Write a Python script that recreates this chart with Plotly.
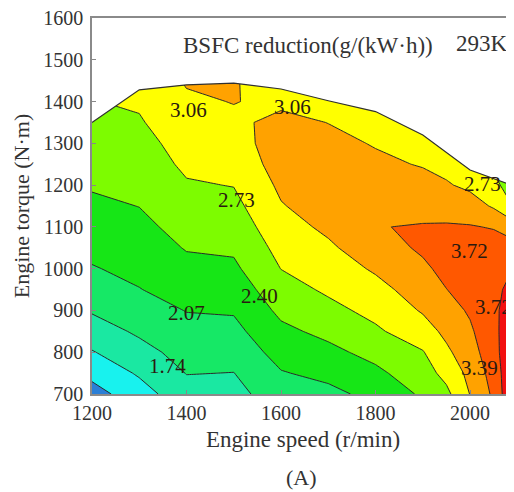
import numpy as np
import plotly.graph_objects as go

# ---------------- data ----------------
speeds = [1200, 1300, 1400, 1500, 1600, 1700, 1800, 1900, 1950, 2000, 2050, 2100]
torques = [700, 750, 800, 850, 900, 950, 1000, 1050, 1100, 1150, 1200, 1250, 1300, 1350, 1400, 1450]

# BSFC reduction per speed column (values along torques)
z_1200 = [0.95, 1.17, 1.39, 1.59, 1.77, 1.91, 2.05, 2.15, 2.24, 2.34, 2.43, 2.51, 2.60, 2.68, 2.72, 2.75]
z_1300 = [1.27, 1.45, 1.63, 1.79, 1.93, 2.06, 2.15, 2.23, 2.32, 2.405, 2.48, 2.55, 2.62, 2.70, 2.77, 2.83]
z_1400 = [1.62, 1.75, 1.86, 1.97, 2.08, 2.20, 2.31, 2.42, 2.51, 2.61, 2.70, 2.79, 2.86, 2.94, 3.01, 3.09]
z_1500 = [1.66, 1.735, 1.86, 1.98, 2.10, 2.22, 2.34, 2.45, 2.54, 2.64, 2.74, 2.82, 2.91, 3.00, 3.07, 3.09]
z_1600 = [1.88, 2.05, 2.19, 2.33, 2.47, 2.60, 2.735, 2.83, 2.94, 3.04, 3.12, 3.21, 3.24, 3.14, 3.00, 2.85]
z_1700 = [1.99, 2.15, 2.32, 2.48, 2.64, 2.78, 2.90, 3.01, 3.12, 3.21, 3.29, 3.22, 3.14, 3.055, 2.98, 2.90]
z_1800 = [2.16, 2.33, 2.50, 2.68, 2.82, 2.96, 3.10, 3.24, 3.38, 3.29, 3.21, 3.12, 3.04, 2.96, 2.88, 2.80]
z_1900 = [2.45, 2.59, 2.71, 2.92, 3.09, 3.21, 3.33, 3.44, 3.41, 3.29, 3.16, 3.04, 2.95, 2.87, 2.80, 2.73]
z_1950 = [2.65, 2.83, 3.00, 3.135, 3.26, 3.385, 3.48, 3.50, 3.42, 3.26, 3.09, 2.97, 2.85, 2.78, 2.75, 2.72]
z_2000 = [3.07, 3.15, 3.25, 3.34, 3.43, 3.52, 3.60, 3.51, 3.41, 3.21, 2.99, 2.85, 2.75, 2.70, 2.70, 2.70]
z_2050 = [3.45, 3.52, 3.60, 3.64, 3.66, 3.66, 3.63, 3.53, 3.37, 3.02, 2.78, 2.70, 2.68, 2.68, 2.68, 2.68]
z_2100 = [4.20, 4.15, 4.10, 4.00, 3.92, 3.82, 3.74, 3.50, 3.15, 2.66, 2.60, 2.60, 2.60, 2.60, 2.60, 2.60]

# full-load (maximum torque) boundary of the map
env_speed = [1200, 1300, 1400, 1500, 1600, 1700, 1800, 1900, 2000, 2100]
env_torque = [1350, 1428, 1440, 1444, 1430, 1402, 1376, 1320, 1236, 1195]

levels_start, levels_end, levels_step = 1.08, 3.72, 0.33
band_colors = ["#2b7fd6", "#18f2ee", "#1ae8a2", "#16e866", "#16e616",
               "#7dfc00", "#ffff00", "#ffa200", "#ff5800", "#f21010"]

label_text = ["3.06", "3.06", "2.73", "2.73", "3.72", "3.72", "3.39", "2.40", "2.07", "1.74"]
label_x = [1405, 1625, 1505, 2027, 1998, 2049, 2021, 1555, 1401, 1359]
label_y = [1380, 1387, 1164, 1203, 1042, 908, 762, 935, 894, 767]

x_ticks = [1200, 1400, 1600, 1800, 2000]
y_ticks = [700, 800, 900, 1000, 1100, 1200, 1300, 1400, 1500, 1600]
x_range = [1200, 2093]
y_range = [700, 1600]

# ---------------- figure ----------------
z = np.array([z_1200, z_1300, z_1400, z_1500, z_1600, z_1700, z_1800,
              z_1900, z_1950, z_2000, z_2050, z_2100]).T

n = len(band_colors) - 1
colorscale = [[i / n, c] for i, c in enumerate(band_colors)]

fig = go.Figure()
fig.add_trace(go.Contour(
    x=speeds, y=torques, z=z,
    contours=dict(start=levels_start, end=levels_end, size=levels_step,
                  coloring="fill", showlabels=False),
    colorscale=colorscale, showscale=False,
    line=dict(color="#2a2a2a", width=1, smoothing=0),
    hoverinfo="skip",
))

# white area above the full-load curve
fig.add_trace(go.Scatter(
    x=env_speed + [env_speed[-1], env_speed[0]],
    y=env_torque + [y_range[1], y_range[1]],
    fill="toself", fillcolor="white", mode="lines",
    line=dict(width=0, color="white"), hoverinfo="skip",
))
fig.add_trace(go.Scatter(
    x=env_speed, y=env_torque, mode="lines",
    line=dict(color="#303030", width=1.2), hoverinfo="skip",
))

serif = "Liberation Serif, Times New Roman, serif"
for t, xx, yy in zip(label_text, label_x, label_y):
    fig.add_annotation(x=xx, y=yy, text=t, showarrow=False,
                       font=dict(family=serif, size=21, color="#2a1a10"))

fig.add_annotation(x=1389, y=1535, xanchor="left", yanchor="middle",
                   text="BSFC reduction(g/(kW·h))", showarrow=False,
                   font=dict(family=serif, size=23, color="#333"))
fig.add_annotation(x=2025, y=1538, xanchor="center", yanchor="middle",
                   text="293K", showarrow=False,
                   font=dict(family=serif, size=23, color="#333"))
fig.add_annotation(xref="paper", yref="paper", x=0.4976, y=-0.2234,
                   xanchor="center", yanchor="middle", text="(A)",
                   showarrow=False, font=dict(family=serif, size=22, color="#333"))

fig.update_layout(
    width=506, height=484,
    margin=dict(l=84, r=0, t=10, b=98, autoexpand=False),
    plot_bgcolor="white", paper_bgcolor="white",
    showlegend=False,
    font=dict(family=serif, color="#333"),
)
fig.update_xaxes(
    range=x_range, tickvals=x_ticks, ticks="inside", ticklen=4,
    tickcolor="#888", showline=True, linecolor="#8a8a8a", linewidth=1.5,
    mirror=True, showgrid=False, zeroline=False, automargin=False,
    tickfont=dict(family=serif, size=20, color="#333"), ticklabelstandoff=0,
    ticklabeloverflow="allow",
    title=dict(text="Engine speed (r/min)",
               font=dict(family=serif, size=23, color="#333"), standoff=8),
)
fig.update_yaxes(
    range=y_range, tickvals=y_ticks, ticks="inside", ticklen=4,
    tickcolor="#888", showline=True, linecolor="#8a8a8a", linewidth=1.5,
    showgrid=False, zeroline=False, automargin=False,
    tickfont=dict(family=serif, size=20, color="#333"), ticklabelstandoff=3,
    ticklabeloverflow="allow",
    title=dict(text="Engine torque (N·m)",
               font=dict(family=serif, size=22, color="#333"), standoff=8),
)

fig.write_html("out.html")
